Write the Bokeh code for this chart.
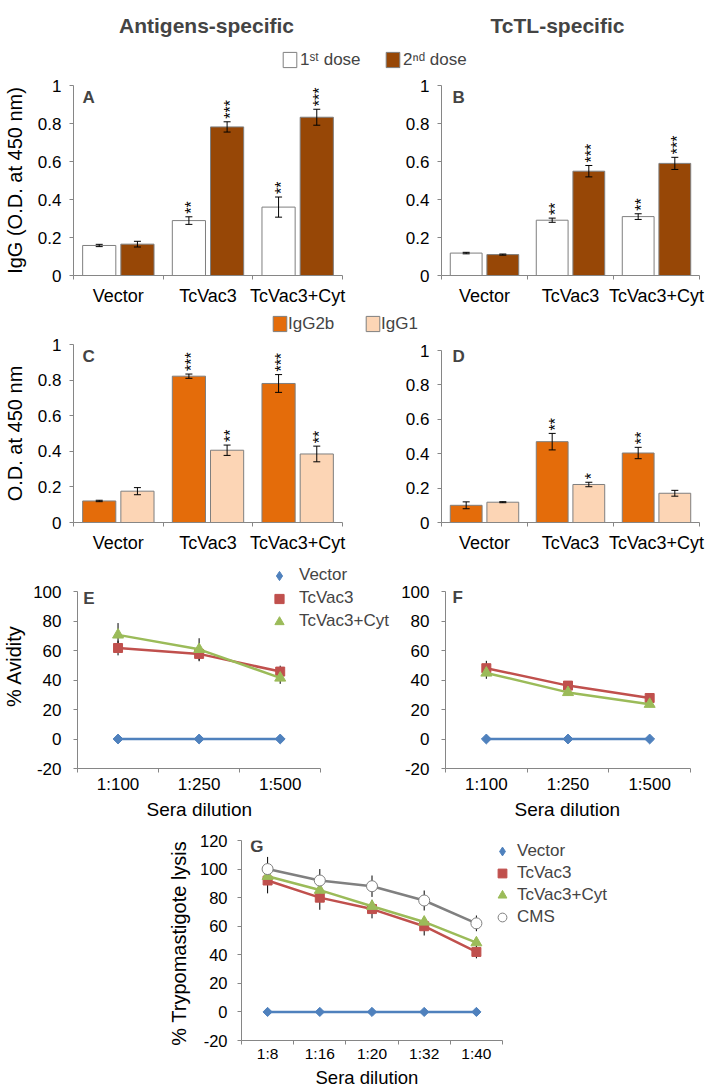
import numpy as np
from bokeh.plotting import figure
from bokeh.models import (Range1d, FixedTicker, NumeralTickFormatter, ColumnDataSource,
                          Whisker, TeeHead, Label, Legend, LegendItem, Title)
from bokeh.layouts import column, row
from bokeh.embed import file_html
from bokeh.resources import INLINE
from bokeh.core.properties import value

FONT = "Liberation Sans"
GRAY = "#868686"
EDGE = "#7f7f7f"

# ---------------- data ----------------
groups = ["Vector", "TcVac3", "TcVac3+Cyt"]

A_dose1 = [0.158, 0.289, 0.360]
A_dose1_err = [0.006, 0.020, 0.053]
A_dose1_sig = ["", "**", "**"]
A_dose2 = [0.165, 0.782, 0.833]
A_dose2_err = [0.015, 0.027, 0.042]
A_dose2_sig = ["", "***", "***"]

B_dose1 = [0.118, 0.291, 0.310]
B_dose1_err = [0.004, 0.011, 0.015]
B_dose1_sig = ["", "**", "**"]
B_dose2 = [0.110, 0.549, 0.590]
B_dose2_err = [0.003, 0.030, 0.032]
B_dose2_sig = ["", "***", "***"]

C_igg2b = [0.121, 0.822, 0.781]
C_igg2b_err = [0.004, 0.012, 0.050]
C_igg2b_sig = ["", "***", "***"]
C_igg1 = [0.176, 0.406, 0.385]
C_igg1_err = [0.020, 0.029, 0.044]
C_igg1_sig = ["", "**", "**"]

D_igg2b = [0.100, 0.470, 0.404]
D_igg2b_err = [0.020, 0.048, 0.033]
D_igg2b_sig = ["", "**", "**"]
D_igg1 = [0.118, 0.221, 0.170]
D_igg1_err = [0.003, 0.013, 0.017]
D_igg1_sig = ["", "*", ""]

dil_EF = ["1:100", "1:250", "1:500"]
E_vector = [0, 0, 0]
E_tcvac3 = [61.7, 57.7, 45.7]
E_tcvac3_err = [5, 5, 4]
E_cyt = [70.6, 60.8, 41.4]
E_cyt_err = [8, 7.5, 4]

F_vector = [0, 0, 0]
F_tcvac3 = [48.0, 36.2, 27.8]
F_tcvac3_err = [5, 2, 2]
F_cyt = [44.8, 31.6, 23.6]
F_cyt_err = [4, 2, 2]

dil_G = ["1:8", "1:16", "1:20", "1:32", "1:40"]
G_vector = [0, 0, 0, 0, 0]
G_tcvac3 = [92, 80, 72, 60, 42]
G_tcvac3_err = [9, 8.5, 6.5, 6.5, 4.5]
G_cyt = [95, 85.3, 74, 63, 48.5]
G_cyt_err = [3, 3, 3, 3, 3]
G_cms = [100, 92, 88, 78, 62]
G_cms_err = [8.5, 8, 7.5, 7, 5.5]

C_DOSE1 = "#ffffff"
C_DOSE2 = "#974706"
C_IGG2B = "#E46C0A"
C_IGG1 = "#FCD5B5"
C_VEC = "#4F81BD"
C_TC = "#C0504D"
C_CYT = "#9BBB59"
C_CMS = "#808080"


def clean(p):
    p.xgrid.visible = False
    p.ygrid.visible = False


def base_fig(w, h, l, r, t, b, cats, yr, ybounds, xend, yticks, yfmt,
             xfs, yfs, xstand, ystand):
    n = len(cats)
    p = figure(width=w, height=h, x_range=Range1d(0, xend), y_range=Range1d(*yr),
               output_backend="svg", toolbar_location=None,
               min_border_left=l, min_border_right=r, min_border_top=t, min_border_bottom=b,
               outline_line_color=None)
    clean(p)
    centers = [i + 0.5 for i in range(n)]
    p.xaxis.ticker = FixedTicker(ticks=centers, minor_ticks=[float(i) for i in range(n + 1)])
    p.xaxis.major_label_overrides = {c: lab for c, lab in zip(centers, cats)}
    p.xaxis.bounds = (0, n)
    p.yaxis.bounds = ybounds
    p.yaxis.ticker = FixedTicker(ticks=yticks)
    p.yaxis.formatter = NumeralTickFormatter(format=yfmt)
    for ax in (p.xaxis, p.yaxis):
        ax.axis_line_color = GRAY
        ax.major_label_text_font = FONT
        ax.major_label_text_color = "#000000"
        ax.axis_label_text_font = FONT
        ax.axis_label_text_font_style = "normal"
        ax.axis_label_text_color = "#000000"
    p.xaxis.major_tick_line_color = None
    p.xaxis.major_tick_out = 4
    p.xaxis.major_tick_in = 0
    p.xaxis.minor_tick_line_color = GRAY
    p.xaxis.minor_tick_out = 4
    p.xaxis.minor_tick_in = 0
    p.xaxis.major_label_text_font_size = xfs
    p.xaxis.major_label_standoff = xstand
    p.yaxis.major_tick_line_color = GRAY
    p.yaxis.major_tick_out = 4
    p.yaxis.major_tick_in = 0
    p.yaxis.minor_tick_line_color = None
    p.yaxis.major_label_text_font_size = yfs
    p.yaxis.major_label_standoff = ystand
    return p, np.array(centers)


def add_letter(p, letter, x, y):
    p.add_layout(Label(x=x, y=y, text=letter, text_font=FONT, text_font_style="bold",
                       text_font_size="17px", text_baseline="alphabetic"))


def bar_series(p, xs, vals, errs, sig, color):
    vals = np.array(vals, dtype=float)
    errs = np.array(errs, dtype=float)
    src = ColumnDataSource(dict(x=xs, top=vals, upper=vals + errs, lower=vals - errs, sig=sig))
    r = p.vbar(x="x", top="top", width=0.37, source=src, fill_color=color,
               line_color=EDGE, line_width=1)
    p.add_layout(Whisker(source=src, base="x", upper="upper", lower="lower",
                         line_color="#000000", line_width=1, level="overlay",
                         upper_head=TeeHead(size=7, line_color="#000000", line_width=1),
                         lower_head=TeeHead(size=7, line_color="#000000", line_width=1)))
    p.text(x="x", y="upper", text="sig", source=src, angle=np.pi / 2,
           text_align="left", text_baseline="middle", text_font=value(FONT),
           text_font_size=value("16px"), y_offset=-3, x_offset=3, text_color="#000000")
    return r


def bar_panel(w, h, l, r, t, b, ytop, s1, e1, g1, c1, s2, e2, g2, c2):
    p, cx = base_fig(w, h, l, r, t, b, groups, (0, ytop), (0, 1), len(groups),
                     [0, 0.2, 0.4, 0.6, 0.8, 1.0], "0.[0]", "18px", "17px", 6, 8)
    r1 = bar_series(p, cx - 0.213, s1, e1, g1, c1)
    r2 = bar_series(p, cx + 0.213, s2, e2, g2, c2)
    return p, r1, r2


def make_legend(items, loc, gw, gh, lh, standoff, spacing, fs="17px"):
    return Legend(items=items, location=loc, orientation="vertical",
                  border_line_color=None, background_fill_alpha=0,
                  glyph_width=gw, glyph_height=gh, label_height=lh,
                  label_standoff=standoff, spacing=spacing, margin=0, padding=0,
                  label_text_font=FONT, label_text_font_size=fs)


def header(w, h):
    p = figure(width=w, height=h, x_range=Range1d(0, w), y_range=Range1d(h, 0),
               output_backend="svg", toolbar_location=None,
               min_border_left=0, min_border_right=0, min_border_top=0, min_border_bottom=0,
               outline_line_color=None, x_axis_type=None, y_axis_type=None)
    clean(p)
    return p


def swatch(p, vals, color):
    # hidden copy of a bar series, only used to draw its legend swatch
    return p.vbar(x=np.arange(len(vals)), top=vals, width=0.37, fill_color=color,
                  line_color=EDGE, line_width=1, visible=False)


def below_title(p, text, offset, fs, standoff):
    p.add_layout(Title(text=text, align="left", offset=offset, standoff=standoff,
                       text_font=FONT, text_font_size=fs, text_font_style="normal",
                       text_color="#000000"), "below")


# ---------------- header row 1 ----------------
H1 = header(714, 75)
H1.add_layout(Label(x=206, y=25, text="Antigens-specific", text_font=FONT,
                    text_font_style="bold", text_font_size="21px",
                    text_align="center", text_baseline="middle"))
H1.add_layout(Label(x=557, y=25, text="TcTL-specific", text_font=FONT,
                    text_font_style="bold", text_font_size="21px",
                    text_align="center", text_baseline="middle"))
sw1 = swatch(H1, A_dose1, C_DOSE1)
sw2 = swatch(H1, A_dose2, C_DOSE2)
H1.add_layout(make_legend([LegendItem(label="1ˢᵗ dose", renderers=[sw1])],
                          (281, 5.5), 17, 19, 19, 2, 0))
H1.add_layout(make_legend([LegendItem(label="2ⁿᵈ dose", renderers=[sw2])],
                          (384, 5.5), 17, 19, 19, 2, 0))

# ---------------- A / B ----------------
pA, rA1, rA2 = bar_panel(380, 235, 71, 38, 10, 35, 1.0,
                         A_dose1, A_dose1_err, A_dose1_sig, C_DOSE1,
                         A_dose2, A_dose2_err, A_dose2_sig, C_DOSE2)
pA.yaxis.axis_label = "IgG (O.D. at 450 nm)"
pA.yaxis.axis_label_text_font_size = "20px"
pA.yaxis.axis_label_standoff = 9
add_letter(pA, "A", 0.1, 0.937)

pB, rB1, rB2 = bar_panel(334, 235, 61, 15, 10, 35, 1.0,
                         B_dose1, B_dose1_err, B_dose1_sig, C_DOSE1,
                         B_dose2, B_dose2_err, B_dose2_sig, C_DOSE2)
add_letter(pB, "B", 0.128, 0.937)

# ---------------- header row 2 ----------------
H2 = header(714, 25)
sw3 = swatch(H2, C_igg2b, C_IGG2B)
sw4 = swatch(H2, C_igg1, C_IGG1)
H2.add_layout(make_legend([LegendItem(label="IgG2b", renderers=[sw3])],
                          (271, 1.5), 17, 19, 19, 0, 0))
H2.add_layout(make_legend([LegendItem(label="IgG1", renderers=[sw4])],
                          (364, 1.5), 17, 19, 19, 0, 0))

# ---------------- C / D (frames share top/bottom) ----------------
pC, rC1, rC2 = bar_panel(362, 228, 71, 20, 9, 41, 1.0,
                         C_igg2b, C_igg2b_err, C_igg2b_sig, C_IGG2B,
                         C_igg1, C_igg1_err, C_igg1_sig, C_IGG1)
pC.yaxis.axis_label = "O.D. at 450 nm"
pC.yaxis.axis_label_text_font_size = "20px"
pC.yaxis.axis_label_standoff = 9
add_letter(pC, "C", 0.1, 0.933)

pD, rD1, rD2 = bar_panel(352, 228, 79, 15, 9, 41, 1 + 6 / 172,
                         D_igg2b, D_igg2b_err, D_igg2b_sig, C_IGG2B,
                         D_igg1, D_igg1_err, D_igg1_sig, C_IGG1)
add_letter(pD, "D", 0.128, 0.965)


# ---------------- line panels ----------------
def line_series(p, xs, vals, errs, color, marker, size, angle=0.0,
                fill=None, mline=None):
    vals = np.array(vals, dtype=float)
    if errs is not None:
        errs = np.array(errs, dtype=float)
        wsrc = ColumnDataSource(dict(x=xs, upper=vals + errs, lower=vals - errs))
        p.add_layout(Whisker(source=wsrc, base="x", upper="upper", lower="lower",
                             line_color="#000000", line_width=1, level="underlay",
                             upper_head=None, lower_head=None))
    p.line(xs, vals, line_color=color, line_width=2.5)
    r = p.scatter(xs, vals, marker=marker, size=size, angle=angle,
                  fill_color=fill or color, line_color=mline or color, line_width=1)
    return r


def diamond_key(p, xs, vals):
    # hidden diamond copy of the Vector series, drawn only as its legend key
    return p.scatter(xs, vals, marker="diamond", size=12, fill_color=C_VEC,
                     line_color=C_VEC, visible=False)


EF_ytop = 100 + 28 * 120 / 177
EF_ticks = [-20, 0, 20, 40, 60, 80, 100]

# E  (frame reaches up and right so that its legend sits inside it)
pE, cxE = base_fig(395, 259, 76, 0, 0, 54, dil_EF, (-20, EF_ytop), (-20, 100),
                   3 + 75 / (244 / 3), EF_ticks, "0", "17px", "17px", 2, 12)
line_series(pE, cxE, E_vector, None, C_VEC, "square", 7, np.pi / 4)
rEv = diamond_key(pE, cxE, E_vector)
rEt = line_series(pE, cxE, E_tcvac3, E_tcvac3_err, C_TC, "square", 9)
rEc = line_series(pE, cxE, E_cyt, E_cyt_err, C_CYT, "triangle", 11)
pE.yaxis.axis_label = "% Avidity"
pE.yaxis.axis_label_text_font_size = "20px"
pE.yaxis.axis_label_standoff = 5
below_title(pE, "Sera dilution", 69, "19px", 0)
add_letter(pE, "E", 0.07, 95)
pE.add_layout(make_legend([LegendItem(label="Vector", renderers=[rEv]),
                           LegendItem(label="TcVac3", renderers=[rEt]),
                           LegendItem(label="TcVac3+Cyt", renderers=[rEc])],
                          (189, 135.5), 26, 23, 23, 7, 0))

# F
pF, cxF = base_fig(319, 259, 50, 24, 0, 54, dil_EF, (-20, EF_ytop), (-20, 100), 3,
                   EF_ticks, "0", "17px", "17px", 2, 12)
line_series(pF, cxF, F_vector, None, C_VEC, "square", 7, np.pi / 4)
line_series(pF, cxF, F_tcvac3, F_tcvac3_err, C_TC, "square", 9)
line_series(pF, cxF, F_cyt, F_cyt_err, C_CYT, "triangle", 11)
below_title(pF, "Sera dilution", 69, "19px", 0)
add_letter(pF, "F", 0.086, 95.7)

# G  (frame reaches right so that its legend sits inside it)
pG, cxG = base_fig(714, 268, 241, 0, 18, 50, dil_G, (-20, 120), (-20, 120),
                   5 + 212 / (261 / 5), [-20, 0, 20, 40, 60, 80, 100, 120], "0",
                   "15.5px", "16.5px", 0, 10)
line_series(pG, cxG, G_vector, None, C_VEC, "square", 6.5, np.pi / 4)
rGv = diamond_key(pG, cxG, G_vector)
rGt = line_series(pG, cxG, G_tcvac3, G_tcvac3_err, C_TC, "square", 9)
rGc = line_series(pG, cxG, G_cyt, G_cyt_err, C_CYT, "triangle", 11)
rGm = line_series(pG, cxG, G_cms, G_cms_err, C_CMS, "circle", 11, fill="#ffffff", mline="#7f7f7f")
pG.yaxis.axis_label = "% Trypomastigote  lysis"
pG.yaxis.axis_label_text_font_size = "20px"
pG.yaxis.axis_label_standoff = 7
below_title(pG, "Sera dilution", 74, "18.5px", 0)
add_letter(pG, "G", 0.17, 116)
pG.add_layout(make_legend([LegendItem(label="Vector", renderers=[rGv]),
                           LegendItem(label="TcVac3", renderers=[rGt]),
                           LegendItem(label="TcVac3+Cyt", renderers=[rGc]),
                           LegendItem(label="CMS", renderers=[rGm])],
                          (248, 112), 26, 22, 22, 2, 0))

layout = column(row(H1), row(pA, pB, spacing=0), row(H2), row(pC, pD, spacing=0),
                row(pE, pF, spacing=0), row(pG), spacing=0)

open("out.html", "w").write(file_html(layout, INLINE))
